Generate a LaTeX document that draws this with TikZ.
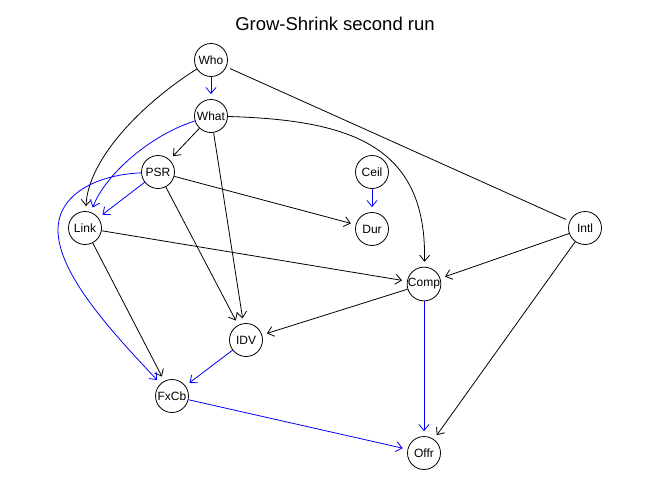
\documentclass[tikz,border=0pt]{standalone}
\usepackage{fontspec}
\setmainfont{Liberation Sans}
\usetikzlibrary{arrows.meta}
\begin{document}
\begin{tikzpicture}[x=1pt,y=-1pt,
  var/.style={circle,draw,line width=0.8pt,minimum size=33pt,inner sep=0pt,font=\fontsize{12}{12}\selectfont},
  arc/.style={line width=0.8pt,-{Straight Barb[length=6pt,width=10pt]},shorten >=5pt},
  barc/.style={arc,blue},
  und/.style={line width=0.8pt,shorten >=4pt,shorten <=4pt}]
\useasboundingbox[fill=white] (0,0) rectangle (672,480);
\node[anchor=base,font=\fontsize{18.5}{18.5}\selectfont] (title) at (335,30.5) {Grow-Shrink second run};
\node[var] (Who) at (211,60) {Who};
\node[var] (What) at (211,116) {What};
\node[var] (PSR) at (158,172) {PSR};
\node[var] (Ceil) at (372,172) {Ceil};
\node[var] (Link) at (85,228) {Link};
\node[var] (Dur) at (372,229) {Dur};
\node[var] (Intl) at (585,228) {Intl};
\node[var] (Comp) at (424,284) {Comp};
\node[var] (IDV) at (246,340) {IDV};
\node[var] (FxCb) at (172,396) {FxCb};
\node[var] (Offr) at (424,453) {Offr};
\draw[barc] (Who) -- (What);
\draw[arc] (Who) .. controls (140,105) and (88,160) .. (Link);
\draw[und] (Who) -- (Intl);
\draw[arc] (What) -- (PSR);
\draw[barc] (What) .. controls (150,135) and (105,175) .. (Link);
\draw[arc] (What) -- (IDV);
\draw[arc] (What) .. controls (350,120) and (427,145) .. (Comp);
\draw[barc] (PSR) -- (Link);
\draw[barc] (PSR) .. controls (95,175) and (58,195) .. (58,230) .. controls (58,275) and (115,335) .. (FxCb);
\draw[arc] (PSR) -- (Dur);
\draw[arc] (PSR) -- (IDV);
\draw[barc] (Ceil) -- (Dur);
\draw[arc] (Link) -- (Comp);
\draw[arc] (Link) -- (FxCb);
\draw[arc] (Intl) -- (Comp);
\draw[arc] (Intl) -- (Offr);
\draw[arc] (Comp) -- (IDV);
\draw[barc] (Comp) -- (Offr);
\draw[barc] (IDV) -- (FxCb);
\draw[barc] (FxCb) -- (Offr);
\end{tikzpicture}
\end{document}
